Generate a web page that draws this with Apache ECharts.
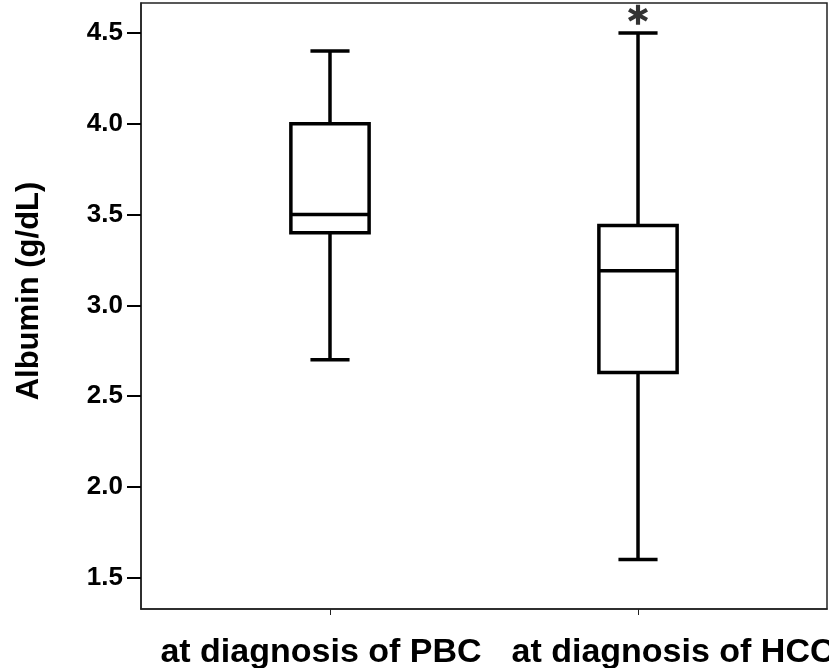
<!DOCTYPE html>
<html>
<head>
<meta charset="utf-8">
<script src="https://cdn.jsdelivr.net/npm/echarts@6/dist/echarts.min.js"></script>
<style>
  html, body { margin: 0; padding: 0; background: #fff; }
  #chart { width: 829px; height: 668px; }
</style>
</head>
<body>
<div id="chart"></div>
<script>
    // 分组
    var categories = ['at diagnosis of PBC', 'at diagnosis of HCC'];
    // 箱线图五个值
    var lowWhisker = [2.7, 1.6];
    var q1 = [3.4, 2.63];
    var median = [3.5, 3.19];
    var q3 = [4.0, 3.44];
    var highWhisker = [4.4, 4.5];
    // 极端值(*)
    var extremes = [[1, 4.6]];
    // y轴刻度
    var yTicks = [1.5, 2.0, 2.5, 3.0, 3.5, 4.0, 4.5];

    var boxData = [];
    for (var i = 0; i < categories.length; i++) {
        boxData.push([i, lowWhisker[i], q1[i], median[i], q3[i], highWhisker[i]]);
    }

    var font = '"Liberation Sans", Arial, sans-serif';

    // 星号路径
    var asterisk = 'path://M-2,-10L2,-10L2,10L-2,10Z' +
        'M7.66,-6.73L9.66,-3.27L-7.66,6.73L-9.66,3.27Z' +
        'M-9.66,-3.27L-7.66,-6.73L9.66,3.27L7.66,6.73Z';

    function renderBox(params, api) {
        var x = api.value(0);
        var lo = api.coord([x, api.value(1)]);
        var b1 = api.coord([x, api.value(2)]);
        var md = api.coord([x, api.value(3)]);
        var b3 = api.coord([x, api.value(4)]);
        var hi = api.coord([x, api.value(5)]);
        var half = api.size([0.127, 0])[0];
        var cap = half / 2;
        var cx = lo[0];
        var st = { stroke: '#000', lineWidth: 3.5, fill: null };
        return {
            type: 'group',
            children: [
                { type: 'line', shape: { x1: cx, y1: lo[1], x2: cx, y2: b1[1] }, style: st },
                { type: 'line', shape: { x1: cx, y1: b3[1], x2: cx, y2: hi[1] }, style: st },
                { type: 'line', shape: { x1: cx - cap, y1: lo[1], x2: cx + cap, y2: lo[1] }, style: st },
                { type: 'line', shape: { x1: cx - cap, y1: hi[1], x2: cx + cap, y2: hi[1] }, style: st },
                { type: 'rect', shape: { x: cx - half, y: b3[1], width: half * 2, height: b1[1] - b3[1] }, style: { stroke: '#000', lineWidth: 3.5, fill: '#fff' } },
                { type: 'line', shape: { x1: cx - half, y1: md[1], x2: cx + half, y2: md[1] }, style: st }
            ]
        };
    }

    var myChart = echarts.init(document.getElementById('chart'));
    var option = {
        backgroundColor: '#fff',
        animation: false,
        grid: {
            left: 141,
            right: 2,
            top: 3,
            bottom: 59,
            outerBoundsMode: 'none',
            show: true,
            borderColor: '#222',
            borderWidth: 1.5
        },
        xAxis: {
            type: 'value',
            min: -0.6136,
            max: 1.6136,
            splitLine: { show: false },
            axisLine: { show: true, onZero: false, lineStyle: { color: '#222', width: 1.5 } },
            axisTick: { show: true, length: 6, customValues: [0, 1], lineStyle: { color: '#222', width: 1 } },
            axisLabel: {
                customValues: [0, 1],
                margin: 27,
                color: '#000',
                fontFamily: font,
                fontWeight: 'bold',
                fontSize: 34,
                formatter: function (v) {
                    var idx = Math.round(v);
                    return '{c' + idx + '|' + categories[idx] + '}';
                },
                rich: {
                    c0: { padding: [0, 18, 0, 0], fontFamily: font, fontWeight: 'bold', fontSize: 34, color: '#000' },
                    c1: { padding: [0, 0, 0, 70], fontFamily: font, fontWeight: 'bold', fontSize: 34, color: '#000' }
                }
            }
        },
        yAxis: {
            type: 'value',
            min: 1.328,
            max: 4.665,
            name: 'Albumin (g/dL)',
            nameLocation: 'middle',
            nameGap: 96,
            nameTextStyle: {
                color: '#000',
                fontFamily: font,
                fontWeight: 'bold',
                fontSize: 31,
                padding: [0, 0, 0, 30]
            },
            splitLine: { show: false },
            axisLine: { show: true, onZero: false, lineStyle: { color: '#222', width: 1.5 } },
            axisTick: { show: true, length: 14, customValues: yTicks, lineStyle: { color: '#000', width: 2 } },
            axisLabel: {
                customValues: yTicks,
                margin: 18,
                color: '#000',
                fontFamily: font,
                fontWeight: 'bold',
                fontSize: 26,
                formatter: function (v) { return v.toFixed(1); }
            }
        },
        series: [
            {
                type: 'custom',
                renderItem: renderBox,
                data: boxData,
                silent: true
            },
            {
                type: 'scatter',
                symbol: asterisk,
                symbolSize: [20, 20],
                itemStyle: { color: '#000' },
                data: extremes,
                silent: true
            }
        ]
    };
    myChart.setOption(option);
</script>
</body>
</html>
